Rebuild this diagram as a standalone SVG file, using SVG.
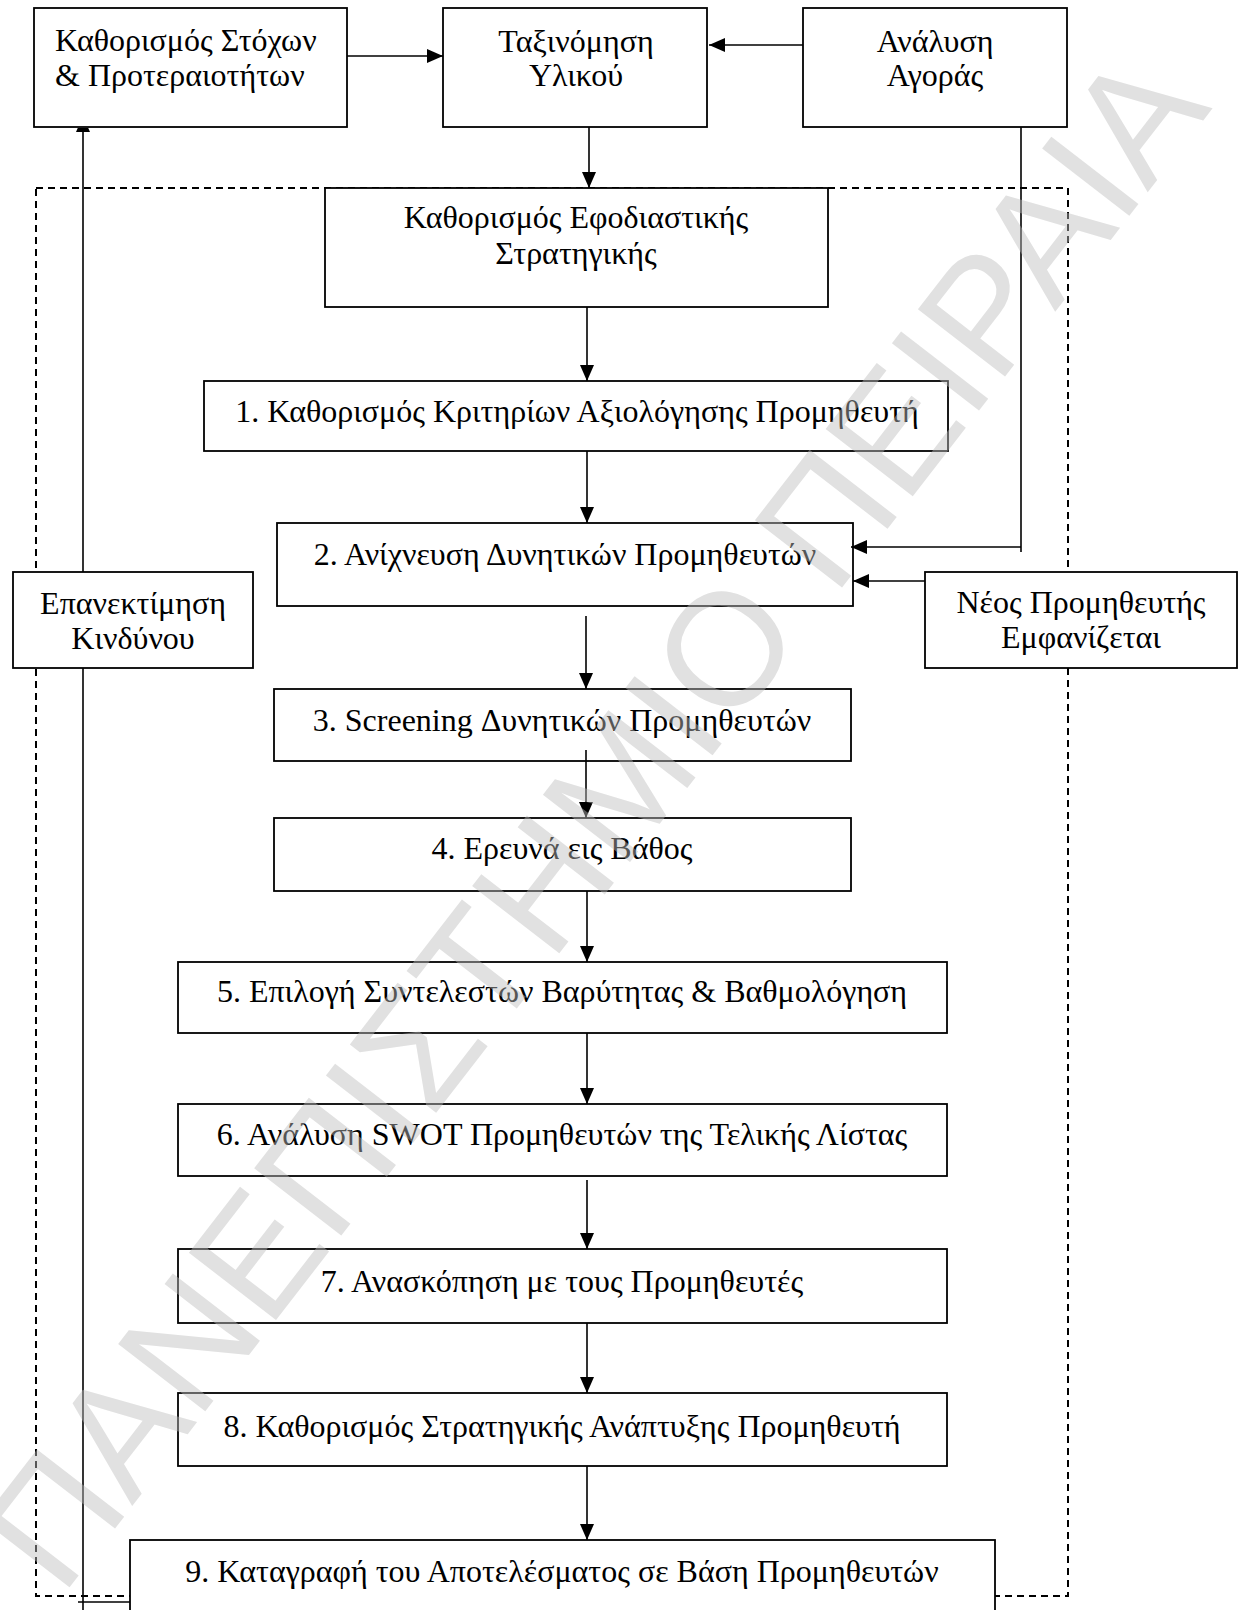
<svg xmlns="http://www.w3.org/2000/svg" width="1245" height="1610" viewBox="0 0 1245 1610">
<style>
.box{fill:#fff;stroke:#000;stroke-width:1.8}
.ln{stroke:#000;stroke-width:1.6;fill:none}
.dash{stroke:#000;stroke-width:2;fill:none;stroke-dasharray:7 5}
text{font-family:"Liberation Serif","Times New Roman",serif;font-size:32px;fill:#000}
.c{text-anchor:middle}
.wm{font-family:"Liberation Sans",Arial,sans-serif;font-size:160px;fill:#bdbdbd;opacity:0.45;text-anchor:middle}
</style>
<defs>
<marker id="arr" markerUnits="userSpaceOnUse" markerWidth="16" markerHeight="14" refX="16" refY="7" orient="auto">
<path d="M0,0 L16,7 L0,14 z" fill="#000"/>
</marker>
<marker id="arrcut" markerUnits="userSpaceOnUse" markerWidth="4" markerHeight="14" refX="4" refY="7" orient="auto">
<path d="M0,0 L4,1.75 L4,12.25 L0,14 z" fill="#000"/>
</marker>
</defs>
<rect width="1245" height="1610" fill="#fff"/>
<g id="boundary">
<rect x="36" y="188" width="1032" height="1408" class="dash"/>
</g>
<g id="n-goals">
<rect x="34" y="8" width="313" height="119" class="box"/>
<text x="55" y="51">Καθορισμός Στόχων</text>
<text x="55" y="86">&amp; Προτεραιοτήτων</text>
</g>
<g id="n-classify">
<rect x="443" y="8" width="264" height="119" class="box"/>
<text x="576" y="52" class="c">Ταξινόμηση</text>
<text x="576" y="86" class="c">Υλικού</text>
</g>
<g id="n-market">
<rect x="803" y="8" width="264" height="119" class="box"/>
<text x="935" y="52" class="c">Ανάλυση</text>
<text x="935" y="86" class="c">Αγοράς</text>
</g>
<g id="n-strategy">
<rect x="325" y="188" width="503" height="119" class="box"/>
<text x="576" y="228" class="c">Καθορισμός Εφοδιαστικής</text>
<text x="576" y="264" class="c">Στρατηγικής</text>
</g>
<g id="n-1">
<rect x="204" y="381" width="744" height="70" class="box"/>
<text x="577" y="422" class="c">1. Καθορισμός Κριτηρίων Αξιολόγησης Προμηθευτή</text>
</g>
<g id="n-2">
<rect x="277" y="523" width="576" height="83" class="box"/>
<text x="565" y="565" class="c">2. Ανίχνευση Δυνητικών Προμηθευτών</text>
</g>
<g id="n-risk">
<rect x="13" y="572" width="240" height="96" class="box"/>
<text x="133" y="614" class="c">Επανεκτίμηση</text>
<text x="133" y="649" class="c">Κινδύνου</text>
</g>
<g id="n-new">
<rect x="925" y="572" width="312" height="96" class="box"/>
<text x="1081" y="613" class="c">Νέος Προμηθευτής</text>
<text x="1081" y="648" class="c">Εμφανίζεται</text>
</g>
<g id="n-3">
<rect x="274" y="689" width="577" height="72" class="box"/>
<text x="562" y="731" class="c">3. Screening Δυνητικών Προμηθευτών</text>
</g>
<g id="n-4">
<rect x="274" y="818" width="577" height="73" class="box"/>
<text x="562" y="859" class="c">4. Ερευνά εις Βάθος</text>
</g>
<g id="n-5">
<rect x="178" y="962" width="769" height="71" class="box"/>
<text x="562" y="1002" class="c">5. Επιλογή Συντελεστών Βαρύτητας &amp; Βαθμολόγηση</text>
</g>
<g id="n-6">
<rect x="178" y="1104" width="769" height="72" class="box"/>
<text x="562" y="1145" class="c">6. Ανάλυση SWOT Προμηθευτών της Τελικής Λίστας</text>
</g>
<g id="n-7">
<rect x="178" y="1249" width="769" height="74" class="box"/>
<text x="562" y="1292" class="c">7. Ανασκόπηση με τους Προμηθευτές</text>
</g>
<g id="n-8">
<rect x="178" y="1393" width="769" height="73" class="box"/>
<text x="562" y="1437" class="c">8. Καθορισμός Στρατηγικής Ανάπτυξης Προμηθευτή</text>
</g>
<g id="n-9">
<rect x="130" y="1540" width="865" height="90" class="box"/>
<text x="562" y="1582" class="c">9. Καταγραφή του Αποτελέσματος σε Βάση Προμηθευτών</text>
</g>
<g id="connectors">
<line x1="347" y1="56" x2="443" y2="56" class="ln" marker-end="url(#arr)"/>
<line x1="803" y1="45" x2="709" y2="45" class="ln" marker-end="url(#arr)"/>
<line x1="589" y1="127" x2="589" y2="188" class="ln" marker-end="url(#arr)"/>
<line x1="587" y1="307" x2="587" y2="381" class="ln" marker-end="url(#arr)"/>
<line x1="587" y1="451" x2="587" y2="523" class="ln" marker-end="url(#arr)"/>
<line x1="586" y1="616" x2="586" y2="689" class="ln" marker-end="url(#arr)"/>
<line x1="586" y1="750" x2="586" y2="818" class="ln" marker-end="url(#arr)"/>
<line x1="587" y1="891" x2="587" y2="962" class="ln" marker-end="url(#arr)"/>
<line x1="587" y1="1033" x2="587" y2="1104" class="ln" marker-end="url(#arr)"/>
<line x1="587" y1="1180" x2="587" y2="1249" class="ln" marker-end="url(#arr)"/>
<line x1="587" y1="1323" x2="587" y2="1393" class="ln" marker-end="url(#arr)"/>
<line x1="587" y1="1466" x2="587" y2="1540" class="ln" marker-end="url(#arr)"/>
<line x1="1021" y1="127" x2="1021" y2="552" class="ln"/>
<line x1="1021" y1="547" x2="851" y2="547" class="ln" marker-end="url(#arr)"/>
<line x1="925" y1="581" x2="853" y2="581" class="ln" marker-end="url(#arr)"/>
<line x1="130" y1="1602" x2="78" y2="1602" class="ln"/>
<line x1="83" y1="1610" x2="83" y2="668" class="ln"/>
<line x1="83" y1="572" x2="83" y2="128" class="ln" marker-end="url(#arrcut)"/>
</g>
<g id="watermark">
<text class="wm" transform="translate(592,818) rotate(-52.3)" y="57">ΠΑΝΕΠΙΣΤΗΜΙΟ ΠΕΙΡΑΙΑ</text>
</g>
</svg>
